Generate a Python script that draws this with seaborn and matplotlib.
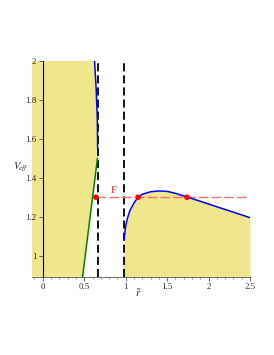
import numpy as np
import matplotlib
matplotlib.use("Agg")
import matplotlib.pyplot as plt
import seaborn as sns

# Right well: blue potential curve
right_r = [0.98, 1.0, 1.02, 1.05, 1.1, 1.15, 1.2, 1.3, 1.4, 1.5, 1.6, 1.75, 2.0, 2.25, 2.5]
right_v = [1.08, 1.15, 1.19, 1.23, 1.27, 1.30, 1.315, 1.328, 1.332, 1.33, 1.32, 1.30, 1.265, 1.23, 1.195]
# Left boundary: green part and blue part
left_green_r = [0.48, 0.66]
left_green_v = [0.89, 1.50]
left_blue_r = [0.662, 0.658, 0.645, 0.625]
left_blue_v = [1.55, 1.70, 1.85, 2.0]
# Right short green segment
right_green_r = [0.98, 0.98]
right_green_v = [0.89, 1.0]
# Turning points at energy F
F_level = 1.30
pts_r = [0.64, 1.15, 1.74]
pts_v = [1.30, 1.30, 1.30]
dashed_r = [2 / 3, 0.98]
x_ticks = [0, 0.5, 1, 1.5, 2, 2.5]
x_labels = ["0", "0.5", "1", "1.5", "2", "2.5"]
y_ticks = [1, 1.2, 1.4, 1.6, 1.8, 2]
y_labels = ["1", "1.2", "1.4", "1.6", "1.8", "2"]

sns.set_style("white")
plt.rcParams['font.family'] = ['Liberation Serif', 'DejaVu Serif']
plt.rcParams['mathtext.fontset'] = 'stix'

fig = plt.figure(figsize=(2.74, 3.55), dpi=100)
ax = fig.add_axes([32 / 274, 1 - 277 / 355, (250 - 32) / 274, (277 - 61) / 355])
xmin, xmax, ymin, ymax = -0.13, 2.5, 0.89, 2.0
khaki = "#F0E68C"

# left fill
bnd_r = left_green_r + left_blue_r
bnd_v = left_green_v + left_blue_v
poly_x = [xmin] + bnd_r + [xmin]
poly_y = [ymin] + bnd_v + [ymax]
ax.fill(poly_x, poly_y, color=khaki, lw=0, zorder=0)
# right fill
ax.fill_between(right_r, ymin, right_v, color=khaki, lw=0, zorder=0)

sns.lineplot(x=right_r, y=right_v, ax=ax, color="#0000FF", lw=1.1, sort=False, zorder=3)
sns.lineplot(x=left_blue_r, y=left_blue_v, ax=ax, color="#0000FF", lw=1.1, sort=False, zorder=3)
sns.lineplot(x=left_green_r, y=left_green_v, ax=ax, color="#008000", lw=1.1, sort=False, zorder=3)
sns.lineplot(x=right_green_r, y=right_green_v, ax=ax, color="#008000", lw=1.1, sort=False, zorder=3)

for xr in dashed_r:
    ax.axvline(xr, color="black", lw=1.3, dashes=(4.5, 2.2), zorder=2)

ax.plot([pts_r[0], xmax], [F_level, F_level], color="#FF7070", lw=1.0, dashes=(7, 2.2), zorder=2)
sns.scatterplot(x=pts_r, y=pts_v, ax=ax, color="red", s=16, edgecolor="none", zorder=5)
ax.text(0.86, 1.31, "F", color="#FF5050", fontsize=7, ha="center", va="bottom", fontweight="bold")

ax.set_xlim(xmin, xmax)
ax.set_ylim(ymin, ymax)
for s in ["top", "right"]:
    ax.spines[s].set_visible(False)
ax.spines["left"].set_position(("data", 0))
ax.spines["left"].set_color("black")
ax.spines["left"].set_linewidth(0.8)
ax.spines["left"].set_zorder(4)
ax.spines["bottom"].set_color("#555555")
ax.spines["bottom"].set_linewidth(0.6)

ax.set_xticks(x_ticks)
ax.set_xticklabels(x_labels)
ax.set_xticks(np.arange(-0.1, 2.51, 0.1), minor=True)
ax.set_yticks(y_ticks)
ax.set_yticklabels(y_labels)
ax.tick_params(axis="both", which="major", direction="out", length=3, width=0.5,
               labelsize=6.5, pad=1.5, colors="#333333", left=True, bottom=True)
ax.tick_params(axis="x", which="minor", direction="out", length=1.5, width=0.4, bottom=True, colors="#555555")

ax.text(-0.27, 1.455, r"$V_{\!eff}$", fontsize=7.5, ha="center", va="center", color="#222222")
ax.text(1.15, 0.81, r"$\tilde{r}$", fontsize=7.5, ha="center", va="center", color="#222222")

fig.savefig("out.png", dpi=100)
